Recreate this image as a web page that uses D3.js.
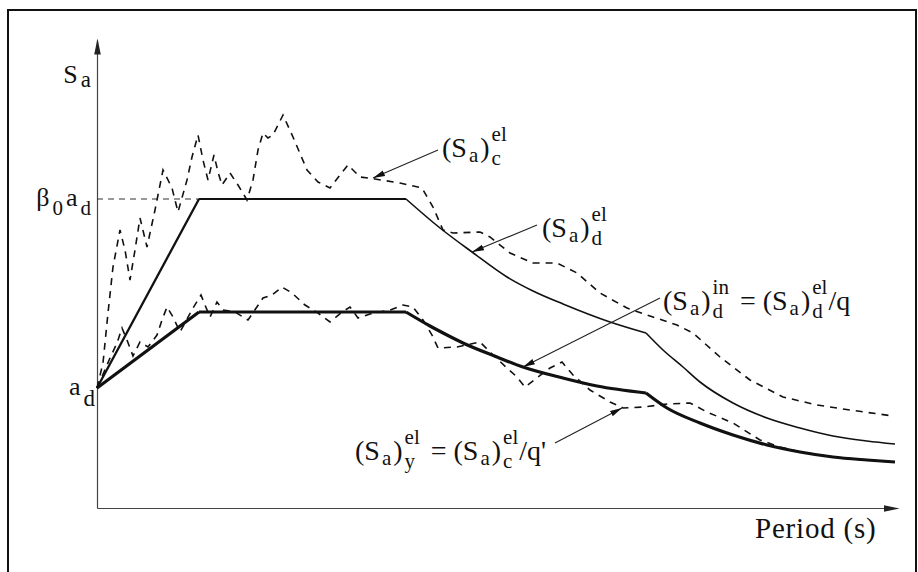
<!DOCTYPE html>
<html>
<head>
<meta charset="utf-8">
<script src="https://cdn.jsdelivr.net/npm/d3@7"></script>
<style>
  html, body { margin: 0; padding: 0; background: #fff; }
  svg { display: block; }
</style>
</head>
<body>
<svg width="918" height="572"></svg>
<script>
(function () {
  'use strict';

  // [period, Sa] pairs (schematic units)
  var designEl = [[0, 1.20], [1.02, 3.09], [3.09, 3.09], [3.43, 2.80], [3.75, 2.56], [4.10, 2.31],
    [4.36, 2.17], [4.66, 2.04], [5.13, 1.86], [5.49, 1.75], [5.66, 1.58], [5.86, 1.41],
    [6.03, 1.26], [6.36, 1.05], [6.70, 0.90], [7.03, 0.80], [7.36, 0.72], [7.70, 0.67], [7.98, 0.64]];

  var designIn = [[0, 1.20], [1.02, 1.96], [3.09, 1.96], [3.33, 1.82], [3.50, 1.73], [3.66, 1.65],
    [4.00, 1.51], [4.26, 1.41], [4.66, 1.30], [5.00, 1.22], [5.49, 1.15], [5.70, 1.00], [6.03, 0.85],
    [6.36, 0.73], [6.70, 0.63], [7.03, 0.56], [7.36, 0.51], [7.70, 0.48], [7.98, 0.46]];

  // elastic response spectrum of the record, (Sa)c el
  var respEl = [[0.00, 1.20], [0.06, 1.45], [0.11, 1.95], [0.16, 2.41], [0.23, 2.78], [0.28, 2.58],
    [0.33, 2.28], [0.38, 2.58], [0.43, 2.90], [0.50, 2.61], [0.58, 2.98], [0.66, 3.38], [0.75, 3.20],
    [0.81, 2.96], [0.90, 3.28], [0.95, 3.51], [1.01, 3.73], [1.06, 3.48], [1.11, 3.28], [1.17, 3.53],
    [1.21, 3.36], [1.25, 3.23], [1.33, 3.35], [1.41, 3.23], [1.50, 3.08], [1.56, 3.28], [1.61, 3.58],
    [1.66, 3.75], [1.71, 3.70], [1.76, 3.73], [1.86, 3.93], [1.96, 3.71], [2.10, 3.38], [2.21, 3.26],
    [2.33, 3.20], [2.43, 3.33], [2.51, 3.43], [2.63, 3.31], [2.78, 3.29], [3.03, 3.25], [3.25, 3.20],
    [3.36, 3.01], [3.46, 2.78], [3.56, 2.75], [3.83, 2.76], [3.93, 2.71], [4.13, 2.55], [4.36, 2.45],
    [4.60, 2.45], [4.80, 2.35], [5.03, 2.15], [5.30, 2.00], [5.56, 1.91], [5.80, 1.83], [5.96, 1.75],
    [6.23, 1.51], [6.53, 1.28], [6.86, 1.11], [7.20, 1.03], [7.53, 0.98], [7.96, 0.92]];

  // reduced response spectrum, (Sa)y el
  var respY = [[0.00, 1.20], [0.07, 1.36], [0.13, 1.50], [0.20, 1.65], [0.25, 1.80], [0.30, 1.68],
    [0.36, 1.52], [0.43, 1.66], [0.51, 1.61], [0.60, 1.73], [0.65, 1.88], [0.70, 2.01], [0.76, 1.91],
    [0.83, 1.76], [0.96, 2.00], [1.04, 2.13], [1.08, 2.03], [1.13, 1.91], [1.20, 2.06], [1.26, 1.98],
    [1.38, 1.96], [1.51, 1.88], [1.66, 2.10], [1.75, 2.13], [1.85, 2.21], [1.95, 2.15], [2.08, 2.03],
    [2.21, 1.95], [2.33, 1.86], [2.45, 1.96], [2.53, 2.01], [2.61, 1.90], [2.73, 1.94], [2.93, 1.98],
    [3.06, 2.03], [3.16, 2.01], [3.26, 1.88], [3.35, 1.73], [3.41, 1.60], [3.60, 1.61], [3.83, 1.66],
    [3.96, 1.53], [4.10, 1.40], [4.20, 1.31], [4.28, 1.21], [4.41, 1.31], [4.53, 1.40], [4.65, 1.46],
    [4.76, 1.33], [4.93, 1.18], [5.13, 1.06], [5.26, 1.00], [5.46, 1.01], [5.70, 1.04], [5.93, 1.05],
    [6.10, 0.96], [6.36, 0.85], [6.63, 0.68], [6.83, 0.61], [7.03, 0.56], [7.36, 0.51], [7.70, 0.48],
    [7.98, 0.46]];

  // corner periods T_B, T_C, T_D of the design spectra
  var cornerT = [1.02, 3.09, 5.49];
  var adValue = 1.20, plateauValue = 3.09;

  // label tokens: n = normal, b = subscript, bp = sub + sup, eq = equals sign
  var labelSa = [["n", "S"], ["b", "a"]];
  var labelB0 = [["n", "\u03b2"], ["b", "0"], ["n", "a"], ["b", "d"]];
  var labelAd = [["n", "a"], ["b", "d"]];
  var labelCel = [["n", "(S"], ["b", "a"], ["n", ")"], ["bp", "c", "el"]];
  var labelDel = [["n", "(S"], ["b", "a"], ["n", ")"], ["bp", "d", "el"]];
  var labelDin = [["n", "(S"], ["b", "a"], ["n", ")"], ["bp", "d", "in"], ["eq", "="],
    ["n", "(S"], ["b", "a"], ["n", ")"], ["bp", "d", "el"], ["n", "/q"]];
  var labelYel = [["n", "(S"], ["b", "a"], ["n", ")"], ["bp", "y", "el"], ["eq", "="],
    ["n", "(S"], ["b", "a"], ["n", ")"], ["bp", "c", "el"], ["n", "/q'"]];

  // arrow start, arrow tip and text anchor, all as [period, Sa]
  var annotations = [
    { from: [3.41, 3.58], tip: [2.76, 3.30], at: [3.45, 3.51], label: labelCel },
    { from: [4.40, 2.83], tip: [3.75, 2.56], at: [4.45, 2.71], label: labelDel },
    { from: [5.63, 2.10], tip: [4.26, 1.41], at: [5.66, 1.98], label: labelDin },
    { from: [4.58, 0.65], tip: [5.25, 1.00], at: [2.58, 0.48], label: labelYel }
  ];

  var serif = '"Liberation Serif", "DejaVu Serif", "Times New Roman", serif';

  var svg = d3.select("svg"),
      width = +svg.attr("width"),
      height = +svg.attr("height");

  var x = d3.scaleLinear().domain([0, 8]).range([97, 897]);
  var y = d3.scaleLinear().domain([0, 4.68]).range([508, 40]);

  // frame round the figure
  svg.append("rect")
      .attr("x", 8).attr("y", 10)
      .attr("width", width - 10).attr("height", height + 10)
      .attr("fill", "none").attr("stroke", "#111").attr("stroke-width", 2);

  var defs = svg.append("defs");
  defs.append("marker")
      .attr("id", "axisHead")
      .attr("viewBox", "0 -4 16 8")
      .attr("refX", 14).attr("refY", 0)
      .attr("markerWidth", 16).attr("markerHeight", 8)
      .attr("markerUnits", "userSpaceOnUse")
      .attr("orient", "auto")
    .append("path")
      .attr("d", "M0,-3.3L16,0L0,3.3Z")
      .attr("fill", "#222");
  defs.append("marker")
      .attr("id", "noteHead")
      .attr("viewBox", "0 -4 12 8")
      .attr("refX", 12).attr("refY", 0)
      .attr("markerWidth", 12).attr("markerHeight", 8)
      .attr("markerUnits", "userSpaceOnUse")
      .attr("orient", "auto")
    .append("path")
      .attr("d", "M0,-3L12,0L0,3Z")
      .attr("fill", "#111");

  // axes, no ticks, only the arrowed lines
  var xAxis = svg.append("g")
      .attr("transform", "translate(0," + y(0) + ")")
      .attr("color", "#444")
      .call(d3.axisBottom(x).tickValues([]).tickSizeOuter(0));
  var yAxis = svg.append("g")
      .attr("transform", "translate(" + x(0) + ",0)")
      .attr("color", "#444")
      .call(d3.axisLeft(y).tickValues([]).tickSizeOuter(0));
  xAxis.select(".domain").attr("stroke-width", 1.2).attr("marker-end", "url(#axisHead)");
  yAxis.select(".domain").attr("stroke-width", 1.2).attr("marker-end", "url(#axisHead)");

  // dashed level of the plateau
  svg.append("line")
      .attr("x1", x(0)).attr("x2", x(cornerT[0]))
      .attr("y1", y(plateauValue)).attr("y2", y(plateauValue))
      .attr("stroke", "#333").attr("stroke-width", 1.2)
      .attr("stroke-dasharray", "6,5");

  // split a design spectrum at its corner periods so corners stay sharp
  function pieces(data) {
    var out = [], cur = [];
    data.forEach(function (d, i) {
      cur.push(d);
      if (i > 0 && i < data.length - 1 && cornerT.indexOf(d[0]) >= 0) {
        out.push(cur);
        cur = [d];
      }
    });
    out.push(cur);
    return out;
  }

  var smooth = d3.line()
      .x(function (d) { return x(d[0]); })
      .y(function (d) { return y(d[1]); })
      .curve(d3.curveMonotoneX);
  var jagged = d3.line()
      .x(function (d) { return x(d[0]); })
      .y(function (d) { return y(d[1]); });

  var elWidths = [2.3, 2.0, 1.6, 1.6];
  svg.append("g").selectAll("path")
      .data(pieces(designEl))
      .enter().append("path")
        .attr("d", smooth)
        .attr("fill", "none").attr("stroke", "#111")
        .attr("stroke-width", function (d, i) { return elWidths[i]; });

  svg.append("g").selectAll("path")
      .data(pieces(designIn))
      .enter().append("path")
        .attr("d", smooth)
        .attr("fill", "none").attr("stroke", "#111")
        .attr("stroke-width", 3.2)
        .attr("stroke-linejoin", "round");

  svg.append("g").selectAll("path")
      .data([respEl, respY])
      .enter().append("path")
        .attr("d", jagged)
        .attr("fill", "none").attr("stroke", "#111")
        .attr("stroke-width", 1.6)
        .attr("stroke-dasharray", "7,6");

  // lays out a label with sub/superscripts, measuring each piece
  function drawLabel(parent, x0, y0, tokens, o) {
    var g = parent.append("g")
        .attr("font-family", serif)
        .attr("fill", "#111");
    var cx = 0;
    function put(txt, dy, size, at) {
      var t = g.append("text")
          .attr("x", at).attr("y", dy)
          .attr("font-family", serif)
          .attr("font-size", size)
          .text(txt);
      return t.node().getComputedTextLength();
    }
    tokens.forEach(function (tk, i) {
      var kind = tk[0];
      if (i > 0) {
        if (kind === "eq") cx += o.eqGap[0];
        else if (tokens[i - 1][0] === "eq") cx += o.eqGap[1];
        else if (tk[1].charAt(0) === "/") cx += 1;
        else cx += o.gap;
      }
      if (kind === "n" || kind === "eq") {
        cx += put(tk[1], 0, o.size, cx);
      } else if (kind === "b") {
        cx += put(tk[1], o.subDy, o.small, cx);
      } else {
        var w1 = put(tk[1], o.stackSub, o.small, cx);
        var w2 = put(tk[2], o.supDy, o.small, cx);
        cx += Math.max(w1, w2);
      }
    });
    var shift = o.anchor === "end" ? x0 - cx : x0;
    g.attr("transform", "translate(" + shift + "," + y0 + ")");
    return g;
  }

  var noteStyle = { size: 28, small: 21, subDy: 5, stackSub: 8, supDy: -16, gap: 2, eqGap: [11, 7] };

  var notes = svg.append("g");
  annotations.forEach(function (a) {
    notes.append("line")
        .attr("x1", x(a.from[0])).attr("y1", y(a.from[1]))
        .attr("x2", x(a.tip[0])).attr("y2", y(a.tip[1]))
        .attr("stroke", "#222").attr("stroke-width", 1.1)
        .attr("marker-end", "url(#noteHead)");
    drawLabel(notes, x(a.at[0]), y(a.at[1]), a.label, noteStyle);
  });

  // axis labels to the left of the vertical axis
  drawLabel(svg, x(0) - 6, 83, labelSa,
    { size: 26, small: 23, subDy: 4, gap: 3, anchor: "end" });
  drawLabel(svg, x(0) - 6, y(plateauValue) + 7, labelB0,
    { size: 26, small: 21, subDy: 9, gap: 3, anchor: "end" });
  drawLabel(svg, x(0) - 2, y(adValue) + 7, labelAd,
    { size: 26, small: 23, subDy: 11, gap: 3, anchor: "end" });

  svg.append("text")
      .attr("x", 755).attr("y", 538)
      .attr("font-family", serif)
      .attr("font-size", 29)
      .attr("fill", "#111")
      .style("letter-spacing", "0.8px")
      .text("Period (s)");

}());
</script>
</body>
</html>
